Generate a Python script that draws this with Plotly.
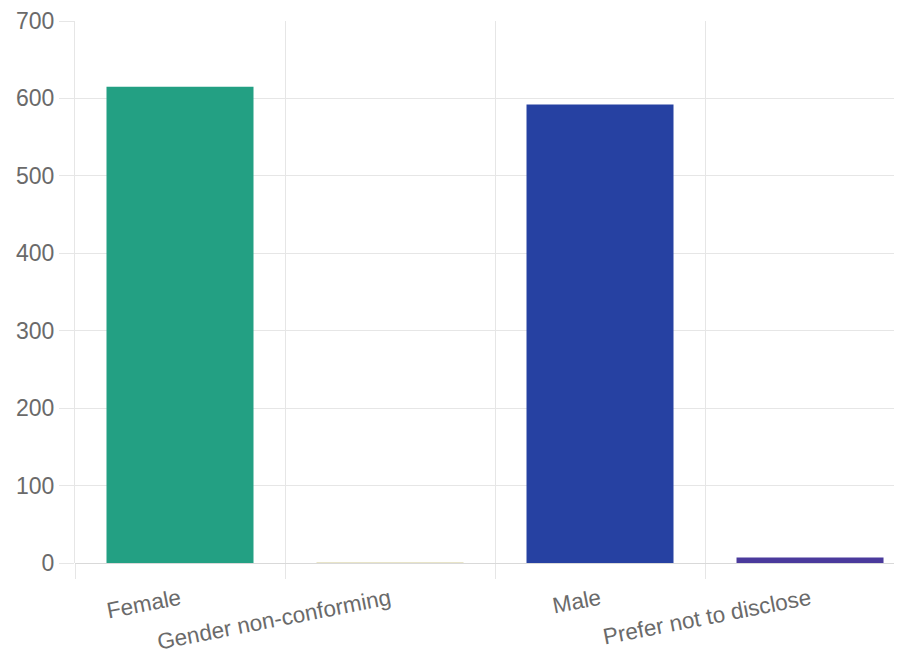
import plotly.graph_objects as go

categories = ["Female", "Gender non-conforming", "Male", "Prefer not to disclose"]
counts = [615, 1, 592, 7]
colors = ["#23a083", "#e8e4c8", "#2641a2", "#4a3a9c"]
y_ticks = [0, 100, 200, 300, 400, 500, 600, 700]

fig = go.Figure(
    go.Bar(
        x=categories,
        y=counts,
        marker=dict(color=colors, line=dict(width=0)),
        width=0.7,
    )
)

grid = "#e6e6e6"
fig.update_layout(
    width=894,
    height=647,
    margin=dict(l=67, r=0, t=13, b=92),
    paper_bgcolor="white",
    plot_bgcolor="white",
    showlegend=False,
    font=dict(family="Liberation Sans, Arial, sans-serif", color="#666666"),
    bargap=0.3,
)
fig.update_xaxes(
    type="category",
    range=[-0.5, 3.438],
    tickson="boundaries",
    ticks="outside",
    ticklen=15,
    tickcolor=grid,
    showgrid=True,
    gridcolor=grid,
    showline=False,
    zeroline=False,
    tickangle=-11,
    ticklabelstandoff=18,
    tickfont=dict(size=22.5, color="#6a6a6a"),
)
fig.update_yaxes(
    range=[0, 700],
    tickvals=y_ticks,
    ticks="outside",
    ticklen=15,
    tickcolor=grid,
    showgrid=True,
    gridcolor=grid,
    zeroline=True,
    zerolinecolor="#d9d9d9",
    zerolinewidth=1,
    showline=True,
    linecolor=grid,
    tickfont=dict(size=23, color="#6a6a6a"),
)

fig.write_html("out.html")
